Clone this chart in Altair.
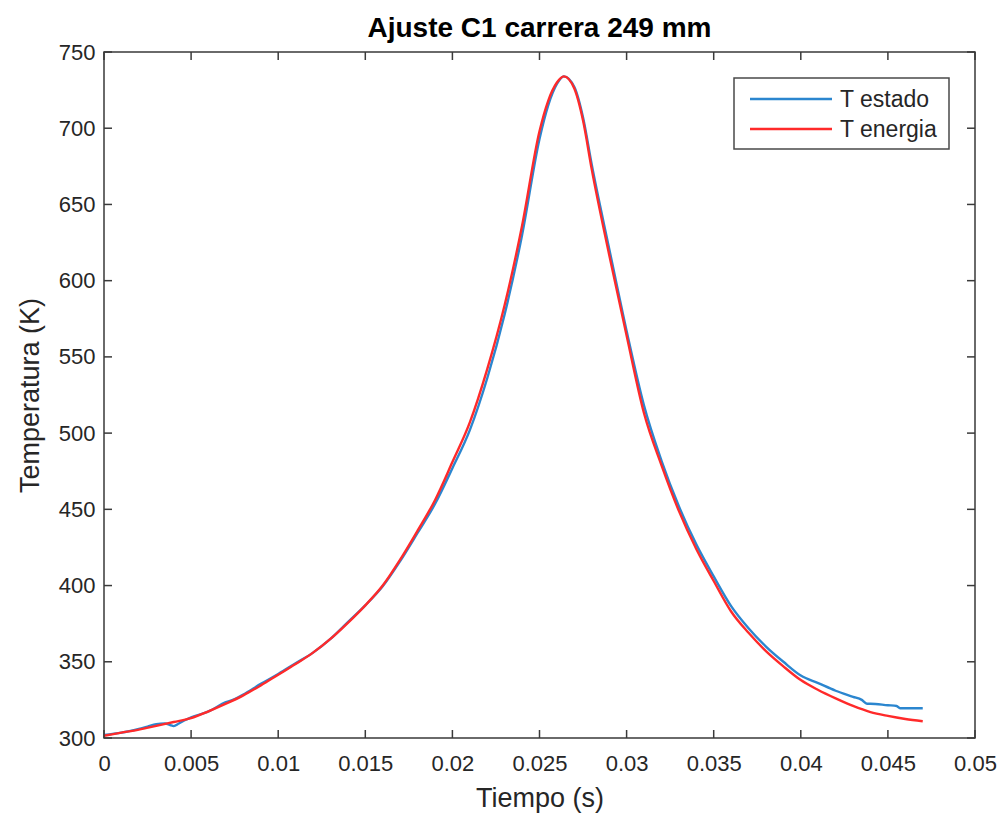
import altair as alt
import pandas as pd

# ---- data ----
t_energia = [0.000, 0.001, 0.002, 0.003, 0.004, 0.005, 0.006, 0.007, 0.008, 0.009,
             0.010, 0.011, 0.012, 0.013, 0.014, 0.015, 0.016, 0.017, 0.018, 0.019,
             0.020, 0.021, 0.022, 0.023, 0.024, 0.025, 0.0255, 0.026, 0.0264, 0.027,
             0.0275, 0.028, 0.029, 0.030, 0.031, 0.032, 0.033, 0.034, 0.035, 0.036,
             0.037, 0.038, 0.039, 0.040, 0.041, 0.042, 0.043, 0.044, 0.045, 0.046, 0.047]
T_energia = [301.5, 303.5, 305.5, 308, 310.5, 313, 317.5, 322.5, 328, 334.5,
             341.5, 348.5, 356, 365, 375.5, 387, 400, 417, 436, 456,
             481, 507, 542, 584, 636, 698, 718, 730, 734, 726,
             705, 673, 617, 564, 513, 479, 449, 424, 403, 383,
             369, 357, 347, 338, 331.5, 326, 321, 317, 314.5, 312.5, 311]

t_estado = [0.000, 0.001, 0.002, 0.0025, 0.003, 0.0035, 0.0038, 0.004, 0.0043, 0.0047,
            0.005, 0.006, 0.007, 0.0075, 0.008, 0.009, 0.010, 0.011, 0.012, 0.013,
            0.014, 0.015, 0.016, 0.017, 0.018, 0.019, 0.020, 0.021, 0.022, 0.023,
            0.024, 0.025, 0.0255, 0.026, 0.0264, 0.027, 0.0275, 0.028, 0.029, 0.030,
            0.031, 0.032, 0.033, 0.034, 0.035, 0.036, 0.037, 0.038, 0.039, 0.040,
            0.041, 0.042, 0.043, 0.0435, 0.0438, 0.044, 0.045, 0.0455, 0.0457, 0.046, 0.047]
T_estado = [302, 303.5, 306, 307.5, 309, 309.5, 308.5, 307.8, 309.5, 312,
            313.5, 317.5, 323.5, 325.5, 328.5, 335.5, 342, 349, 356, 365,
            376, 387, 399.5, 416, 434.5, 453.5, 477, 502, 536, 578,
            630, 693, 715, 729, 734, 727, 707, 676, 621, 567,
            518, 482, 452, 427, 406, 386.5, 372, 360, 350, 341,
            336, 331, 327, 325, 322.5, 322.5, 321.5, 321, 319.5, 319.5, 319.5]

series_names = ["T estado", "T energia"]
series_colors = ["#2b86cf", "#ff2a2a"]

x_ticks = [0, 0.005, 0.01, 0.015, 0.02, 0.025, 0.03, 0.035, 0.04, 0.045, 0.05]
y_ticks = [300, 350, 400, 450, 500, 550, 600, 650, 700, 750]

title_text = "Ajuste C1 carrera 249 mm"
x_title = "Tiempo (s)"
y_title = "Temperatura (K)"

# ---- layout ----
W, H = 871, 686
FONT = "Liberation Sans"
GREY = "#262626"
TICK = 8

xs = alt.Scale(domain=[0, 0.05], nice=False, zero=False)
ys = alt.Scale(domain=[300, 750], nice=False, zero=False)

df_estado = pd.DataFrame({"t": t_estado, "T": T_estado})
df_energia = pd.DataFrame({"t": t_energia, "T": T_energia})
df_xt = pd.DataFrame({"v": x_ticks})
df_yt = pd.DataFrame({"v": y_ticks})

x_axis = alt.Axis(values=x_ticks, format="~g", title=x_title, grid=False, ticks=False, tickSize=0,
                  domain=False, labelFontSize=22, labelFont=FONT, labelColor=GREY,
                  labelPadding=15, titleFontSize=27, titleFont=FONT, titleColor=GREY,
                  titleFontWeight="normal", titlePadding=11, labelFlush=False)
y_axis = alt.Axis(values=y_ticks, title=y_title, grid=False, ticks=False, tickSize=0,
                  domain=False, labelFontSize=22, labelFont=FONT, labelColor=GREY,
                  labelPadding=9, titleFontSize=27, titleFont=FONT, titleColor=GREY,
                  titleFontWeight="normal", titlePadding=14, labelFlush=False)

line_estado = alt.Chart(df_estado).mark_line(color=series_colors[0], strokeWidth=2.4,
                                             interpolate="monotone").encode(
    x=alt.X("t:Q", scale=xs, axis=x_axis),
    y=alt.Y("T:Q", scale=ys, axis=y_axis),
)
line_energia = alt.Chart(df_energia).mark_line(color=series_colors[1], strokeWidth=2.4,
                                               interpolate="monotone").encode(
    x=alt.X("t:Q", scale=xs),
    y=alt.Y("T:Q", scale=ys),
)

tick_style = dict(color="#3a3a3a", strokeWidth=1.5)
xt_bottom = alt.Chart(df_xt).mark_rule(**tick_style).encode(
    x=alt.X("v:Q", scale=xs), y=alt.value(H), y2=alt.value(H - TICK))
xt_top = alt.Chart(df_xt).mark_rule(**tick_style).encode(
    x=alt.X("v:Q", scale=xs), y=alt.value(0), y2=alt.value(TICK))
yt_left = alt.Chart(df_yt).mark_rule(**tick_style).encode(
    y=alt.Y("v:Q", scale=ys), x=alt.value(0), x2=alt.value(TICK))
yt_right = alt.Chart(df_yt).mark_rule(**tick_style).encode(
    y=alt.Y("v:Q", scale=ys), x=alt.value(W), x2=alt.value(W - TICK))

# ---- legend box (drawn manually) ----
LX0, LX1, LY0, LY1 = 630, 845, 26, 97
legend_box = alt.Chart(pd.DataFrame({"k": [0]})).mark_rect(
    fill="white", stroke="#4a4a4a", strokeWidth=1.5).encode(
    x=alt.value(LX0), x2=alt.value(LX1), y=alt.value(LY0), y2=alt.value(LY1))
legend_layers = []
for i, (name, col) in enumerate(zip(series_names, series_colors)):
    yy = 47 + 30 * i
    legend_layers.append(alt.Chart(pd.DataFrame({"s": [name]})).mark_rule(
        color=col, strokeWidth=2.4).encode(x=alt.value(646), x2=alt.value(728), y=alt.value(yy)))
    legend_layers.append(alt.Chart(pd.DataFrame({"s": [name]})).mark_text(
        align="left", baseline="middle", fontSize=23, font=FONT, color=GREY).encode(
        x=alt.value(736), y=alt.value(yy + 1), text="s:N"))

chart = alt.layer(
    line_estado, line_energia, xt_bottom, xt_top, yt_left, yt_right, legend_box, *legend_layers
).properties(
    width=W, height=H,
    title=alt.TitleParams(title_text, fontSize=28, font=FONT, fontWeight="bold",
                          color="black", anchor="middle", offset=-2),
    autosize=alt.AutoSizeParams(type="none"),
    padding={"left": 104, "top": 52, "right": 27, "bottom": 80},
    background="white",
).configure_view(stroke="#3a3a3a", strokeWidth=1.5)

chart.save("out.html", embed_options={"renderer": "svg", "actions": False})
